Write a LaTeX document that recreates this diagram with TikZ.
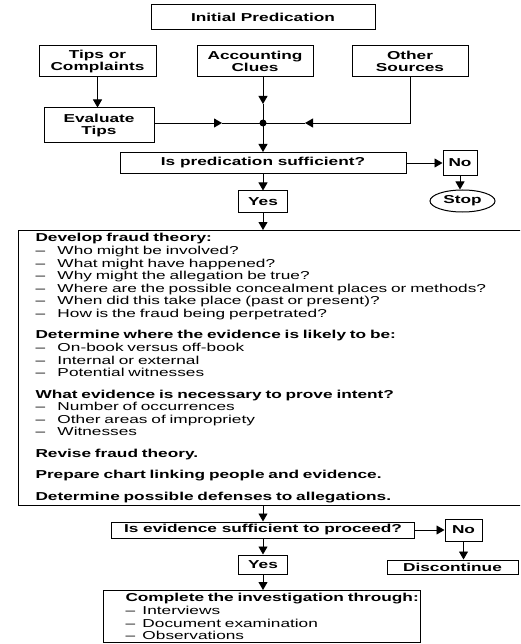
\documentclass[tikz,border=0pt]{standalone}
\usepackage{fontspec}
\setmainfont{Liberation Sans}[FakeStretch=1.5]
\usetikzlibrary{arrows.meta,shapes.geometric}
\tikzset{
  box/.style={draw, line width=1pt, inner sep=0pt, align=center, font=\bfseries},
  textbox/.style={draw, line width=1pt, anchor=north west, align=left},
  link/.style={line width=0.9pt, -{Triangle[length=8pt,width=9pt]}},
  plain/.style={line width=0.9pt},
}
\newcommand{\dashitem}[2][22pt]{\makebox[#1][l]{--}#2}
\begin{document}
\fontsize{11.5}{12.6}\selectfont
\begin{tikzpicture}[x=1pt, y=-1pt]
  \useasboundingbox (0,0) rectangle (520,644);
  \clip (0,0) rectangle (520,644);
  \node[box, minimum width=224, minimum height=25] (init) at (263,17.5) {Initial Predication};
  \node[box, minimum width=117, minimum height=31] (tips) at (97.5,61.5) {Tips or\\Complaints};
  \node[box, minimum width=116, minimum height=31] (acct) at (255,61.5) {Accounting\\Clues};
  \node[box, minimum width=116, minimum height=31] (other) at (410,61.5) {Other\\Sources};
  \node[box, minimum width=110, minimum height=35] (eval) at (99,125.5) {Evaluate\\Tips};
  \coordinate (dot) at (263,123);
  \fill (dot) circle (3.5pt);
  \node[box, minimum width=286, minimum height=21] (pred) at (263,163) {Is predication sufficient?};
  \node[box, minimum width=34, minimum height=25] (no1) at (460,163) {No};
  \node[box, ellipse, minimum width=65, minimum height=22] (stop) at (462.5,201) {Stop};
  \node[box, minimum width=49, minimum height=21] (yes1) at (263,201.5) {Yes};
  \node[textbox, text width=510pt, inner xsep=17pt, inner ysep=0pt, minimum height=275] (theory) at (18,230) {%
    \textbf{Develop fraud theory:}\\
    \dashitem{Who might be involved?}\\
    \dashitem{What might have happened?}\\
    \dashitem{Why might the allegation be true?}\\
    \dashitem{Where are the possible concealment places or methods?}\\
    \dashitem{When did this take place (past or present)?}\\
    \dashitem{How is the fraud being perpetrated?}\\[8.8pt]
    \textbf{Determine where the evidence is likely to be:}\\
    \dashitem{On-book versus off-book}\\
    \dashitem{Internal or external}\\
    \dashitem{Potential witnesses}\\[8.8pt]
    \textbf{What evidence is necessary to prove intent?}\\
    \dashitem{Number of occurrences}\\
    \dashitem{Other areas of impropriety}\\
    \dashitem{Witnesses}\\[8.8pt]
    \textbf{Revise fraud theory.}\\[8.8pt]
    \textbf{Prepare chart linking people and evidence.}\\[8.8pt]
    \textbf{Determine possible defenses to allegations.}};
  \node[box, minimum width=303, minimum height=16] (evid) at (263,530) {Is evidence sufficient to proceed?};
  \node[box, minimum width=37, minimum height=22] (no2) at (463.5,530) {No};
  \node[box, minimum width=131, minimum height=14] (disc) at (452.5,567) {Discontinue};
  \node[box, minimum width=49, minimum height=19] (yes2) at (263,564.5) {Yes};
  \node[textbox, text width=317pt, inner xsep=0pt, inner ysep=3pt] (complete) at (103,590) {%
    \leftskip=22pt
    \textbf{Complete the investigation through:}\\
    \dashitem[17pt]{Interviews}\\
    \dashitem[17pt]{Document examination}\\
    \dashitem[17pt]{Observations}\par\vspace{14pt}};
  % sources into the junction
  \draw[link] (tips) -- (tips |- eval.north);
  \coordinate (acctin) at (263,104);
  \draw[link] (acct.south -| dot) -- (acctin);
  \draw[plain] (acctin) -- (dot);
  \coordinate (evalin) at (222,123);
  \draw[link] (eval.east |- dot) -- (evalin);
  \draw[plain] (evalin) -- (dot);
  \coordinate (otherin) at (305,123);
  \draw[link] (other) |- (otherin);
  \draw[plain] (otherin) -- (dot);
  % first decision
  \draw[link] (dot) -- (pred);
  \draw[link] (pred) -- (no1);
  \draw[link] (no1.south) -- (no1.south |- stop.north);
  \draw[link] (pred) -- (yes1);
  \draw[link] (yes1) -- (yes1 |- theory.north);
  % second decision
  \draw[link] (yes1 |- theory.south) -- (evid);
  \draw[link] (evid) -- (no2);
  \draw[link] (no2.south) -- (no2.south |- disc.north);
  \draw[link] (evid) -- (yes2);
  \draw[link] (yes2) -- (yes2 |- complete.north);
\end{tikzpicture}
\end{document}
